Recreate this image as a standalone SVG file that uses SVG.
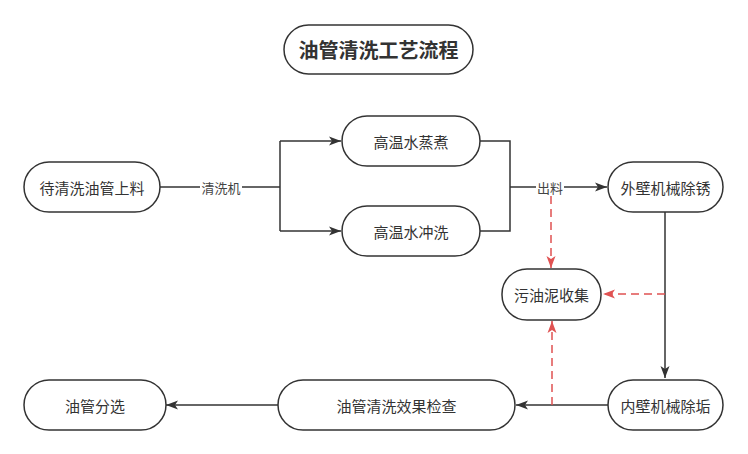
<svg xmlns="http://www.w3.org/2000/svg" width="748" height="454" viewBox="0 0 748 454">
<defs>
<style>
.n{fill:#fff;stroke:#333;stroke-width:1.5}
.t{font-family:"Noto Sans CJK SC","Noto Sans",sans-serif;font-size:15px;fill:#333;text-anchor:middle;dominant-baseline:central}
.ti{font-family:"Noto Sans CJK SC","Noto Sans",sans-serif;font-size:20px;font-weight:bold;fill:#333;text-anchor:middle;dominant-baseline:central}
.l{font-family:"Noto Sans CJK SC","Noto Sans",sans-serif;font-size:13px;fill:#444;text-anchor:middle;dominant-baseline:central}
.e{fill:none;stroke:#333;stroke-width:1.5}
.r{fill:none;stroke:#e05252;stroke-width:1.5;stroke-dasharray:8 5}
</style>
<marker id="a" viewBox="0 0 12 10" refX="12" refY="5" markerWidth="12" markerHeight="10" markerUnits="userSpaceOnUse" orient="auto"><path d="M0,0.5 L12,5 L0,9.5 L3,5 Z" fill="#333"/></marker>
<marker id="ar" viewBox="0 0 12 10" refX="12" refY="5" markerWidth="12" markerHeight="10" markerUnits="userSpaceOnUse" orient="auto"><path d="M0,0.5 L12,5 L0,9.5 L3,5 Z" fill="#e05252"/></marker>
</defs>
<rect width="748" height="454" fill="#fff"/>
<g id="connectors">
<path class="e" d="M160,187 H280"/>
<path class="e" d="M280,141 V231"/>
<path class="e" d="M280,141 H341" marker-end="url(#a)"/>
<path class="e" d="M280,231 H341" marker-end="url(#a)"/>
<path class="e" d="M480,141 H510 V231 H480"/>
<path class="e" d="M510,187 H607" marker-end="url(#a)"/>
<path class="e" d="M665,212 V378" marker-end="url(#a)"/>
<path class="e" d="M608,405 H516" marker-end="url(#a)"/>
<path class="e" d="M278,405 H166" marker-end="url(#a)"/>
<path class="r" d="M551,196 V268" marker-end="url(#ar)"/>
<path class="r" d="M665,294 H603" marker-end="url(#ar)"/>
<path class="r" d="M552,405 V321" marker-end="url(#ar)"/>
<rect x="200" y="179" width="42" height="16" fill="#fff"/>
<text class="l" x="221" y="187">清洗机</text>
<rect x="536" y="179" width="28" height="16" fill="#fff"/>
<text class="l" x="550" y="187">出料</text>
</g>
<g id="title"><rect class="n" x="284" y="25" width="189" height="49" rx="24.5"/><text class="ti" x="378.5" y="49.5">油管清洗工艺流程</text></g>
<g id="n1"><rect class="n" x="24" y="162" width="136" height="50" rx="25"/><text class="t" x="92" y="187">待清洗油管上料</text></g>
<g id="n2"><rect class="n" x="342" y="116" width="138" height="50" rx="25"/><text class="t" x="411" y="141">高温水蒸煮</text></g>
<g id="n3"><rect class="n" x="342" y="206" width="138" height="50" rx="25"/><text class="t" x="411" y="231">高温水冲洗</text></g>
<g id="n4"><rect class="n" x="608" y="162" width="115" height="50" rx="25"/><text class="t" x="665.5" y="187">外壁机械除锈</text></g>
<g id="n5"><rect class="n" x="502" y="269" width="99" height="51" rx="25"/><text class="t" x="551.5" y="294.5">污油泥收集</text></g>
<g id="n6"><rect class="n" x="608" y="380" width="115" height="50" rx="25"/><text class="t" x="665.5" y="405">内壁机械除垢</text></g>
<g id="n7"><rect class="n" x="278" y="380" width="237" height="50" rx="25"/><text class="t" x="396.5" y="405">油管清洗效果检查</text></g>
<g id="n8"><rect class="n" x="24" y="380" width="142" height="50" rx="25"/><text class="t" x="95" y="405">油管分选</text></g>
</svg>
